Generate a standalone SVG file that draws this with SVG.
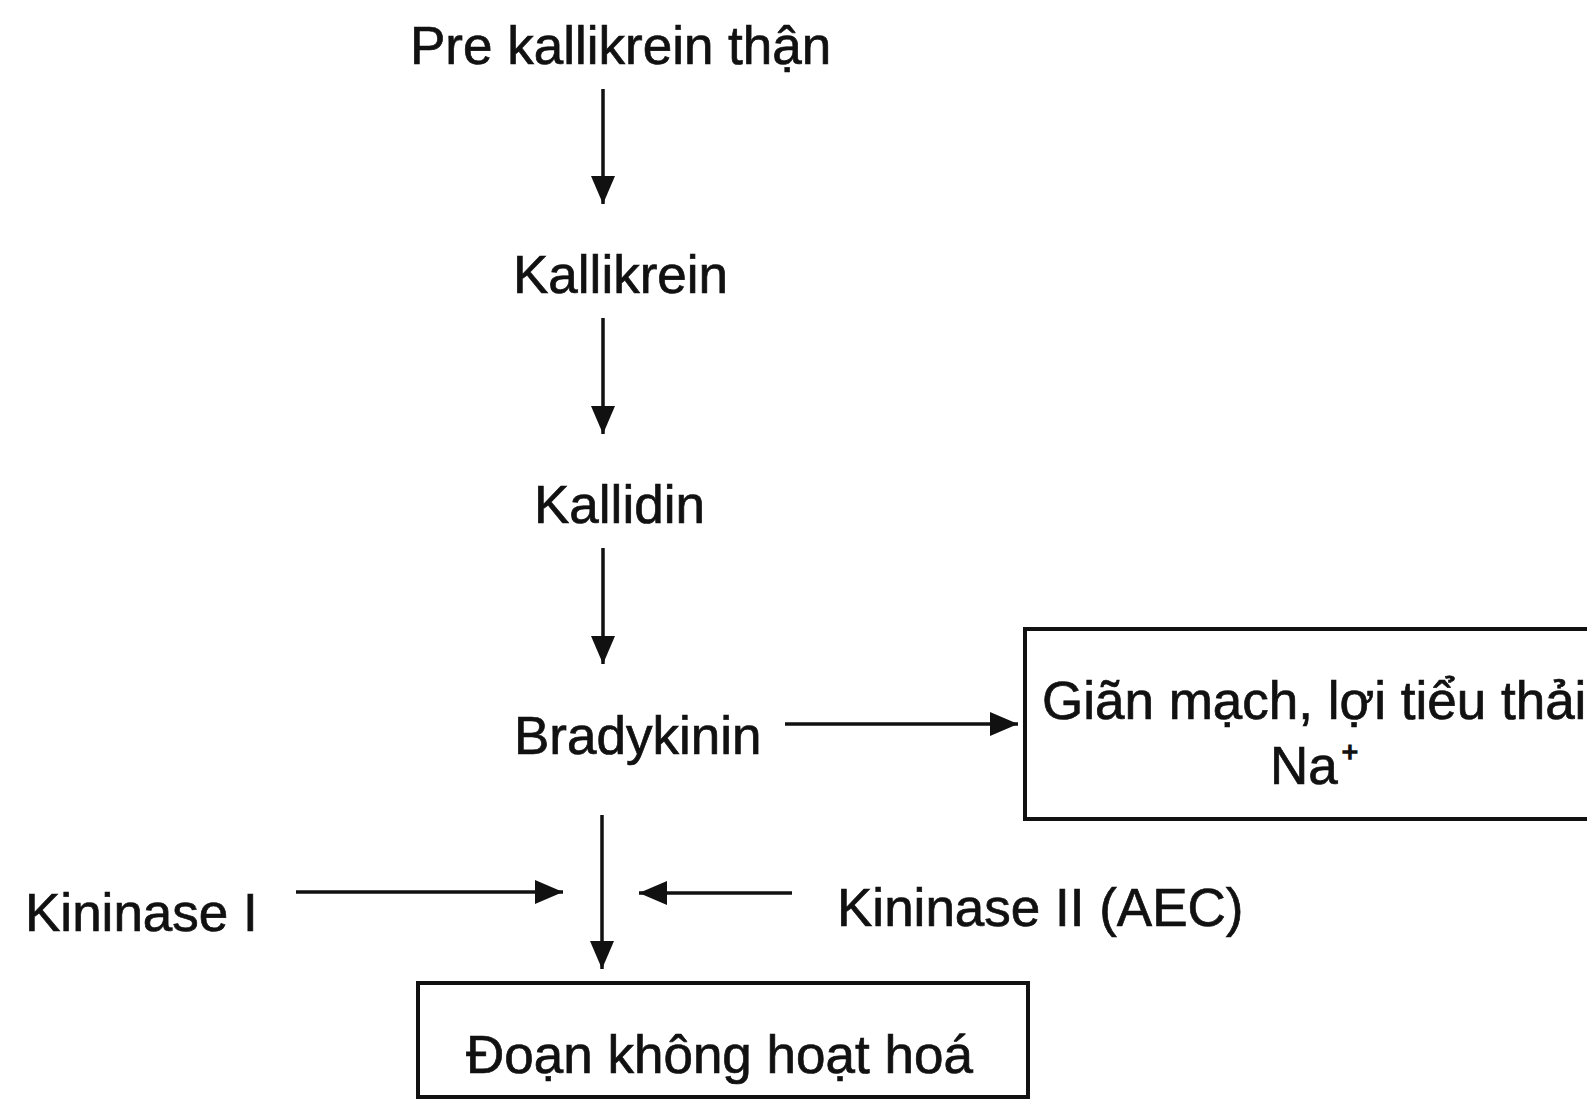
<svg xmlns="http://www.w3.org/2000/svg" width="1587" height="1099" viewBox="0 0 1587 1099">
<style>
text{font-family:"Liberation Sans",Arial,sans-serif;font-size:53px;fill:#111;stroke:#111;stroke-width:0.7}
.c{stroke:#111;stroke-width:3.5;fill:none}
.box{fill:#fff;stroke:#111;stroke-width:4}
</style>
<defs>
<marker id="ah" viewBox="0 0 28 24" refX="28" refY="12" markerWidth="28" markerHeight="24" markerUnits="userSpaceOnUse" orient="auto">
<path d="M0,0 L28,12 L0,24 z" fill="#111"/>
</marker>
</defs>
<rect width="1587" height="1099" fill="#fff"/>
<g id="connectors">
<line class="c" x1="603" y1="89" x2="603" y2="204" marker-end="url(#ah)"/>
<line class="c" x1="603" y1="318" x2="603" y2="434" marker-end="url(#ah)"/>
<line class="c" x1="603" y1="548" x2="603" y2="664" marker-end="url(#ah)"/>
<line class="c" x1="785" y1="724" x2="1018" y2="724" marker-end="url(#ah)"/>
<line class="c" x1="602" y1="815" x2="602" y2="969" marker-end="url(#ah)"/>
<line class="c" x1="296" y1="892" x2="563" y2="892" marker-end="url(#ah)"/>
<line class="c" x1="792" y1="893" x2="639" y2="893" marker-end="url(#ah)"/>
</g>
<g id="n-prekallikrein"><text x="410" y="64">Pre kallikrein thận</text></g>
<g id="n-kallikrein"><text x="513" y="293">Kallikrein</text></g>
<g id="n-kallidin"><text x="534" y="523">Kallidin</text></g>
<g id="n-bradykinin"><text x="514" y="754">Bradykinin</text></g>
<g id="n-gianmach">
<rect class="box" x="1025" y="629" width="600" height="190"/>
<text x="1042" y="719">Giãn mạch, lợi tiểu thải</text>
<text x="1270" y="784">Na<tspan font-size="28" stroke-width="1.5" dx="4" dy="-23">+</tspan></text>
</g>
<g id="n-kininase1"><text x="25" y="931">Kininase I</text></g>
<g id="n-kininase2"><text x="837" y="926">Kininase II (AEC)</text></g>
<g id="n-doan">
<rect class="box" x="418" y="983" width="610" height="114"/>
<text x="466" y="1073">Đoạn không hoạt hoá</text>
</g>
</svg>
